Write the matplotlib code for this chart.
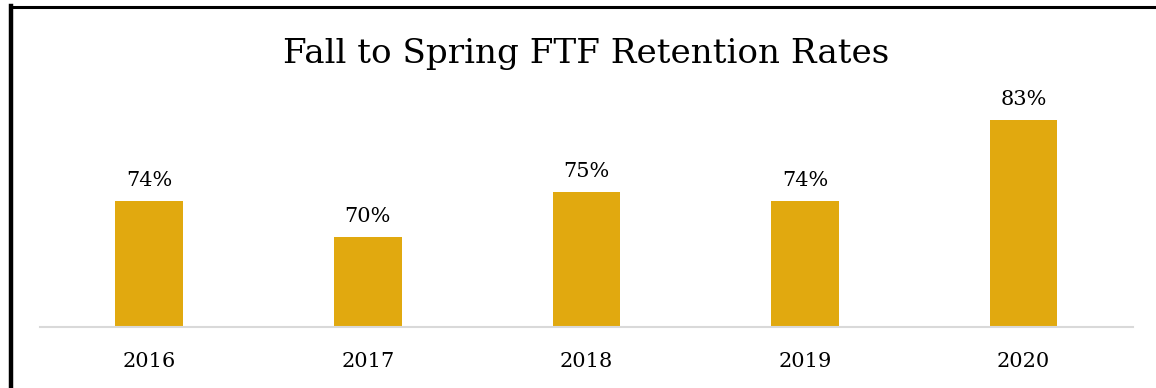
import matplotlib
matplotlib.use("Agg")
import matplotlib.pyplot as plt
from matplotlib.lines import Line2D

# Fall-to-spring first-time freshman retention by year
years = ["2016", "2017", "2018", "2019", "2020"]
retention = [0.74, 0.70, 0.75, 0.74, 0.83]

BAR_COLOR = "#E1A90F"
SERIF = ["DejaVu Serif"]

fig = plt.figure(figsize=(11.56, 3.88), dpi=100, facecolor="white")
ax = fig.add_axes([0.0346, 0.157, 0.9454, 0.696])

bars = ax.bar(years, retention, width=0.31, color=BAR_COLOR, zorder=2)
ax.set_ylim(0.60, 0.90)
ax.set_xlim(-0.5, len(years) - 0.5)

for rect, v in zip(bars, retention):
    ax.annotate(f"{v:.0%}", (rect.get_x() + rect.get_width() / 2, v),
                xytext=(0, 8), textcoords="offset points",
                ha="center", va="bottom", fontsize=15, family=SERIF)

# only a light baseline, no other spines or y ticks
for side in ["top", "right", "left"]:
    ax.spines[side].set_visible(False)
ax.spines["bottom"].set_color("#d9d9d9")
ax.spines["bottom"].set_linewidth(1.5)
ax.set_yticks([])
ax.tick_params(axis="x", length=0, pad=18, labelsize=15)
for lbl in ax.get_xticklabels():
    lbl.set_family(SERIF)

fig.text(0.507, 0.861, "Fall to Spring FTF Retention Rates",
         ha="center", va="center", fontsize=24.6, family=SERIF)

# black frame along the top and left edges
fig.add_artist(Line2D([0.0095, 1.0], [0.982, 0.982], color="black", lw=2.2,
                      transform=fig.transFigure))
fig.add_artist(Line2D([0.0095, 0.0095], [0.0, 0.984], color="black", lw=3.2,
                      transform=fig.transFigure))

fig.savefig("out.png", dpi=100, facecolor="white")
